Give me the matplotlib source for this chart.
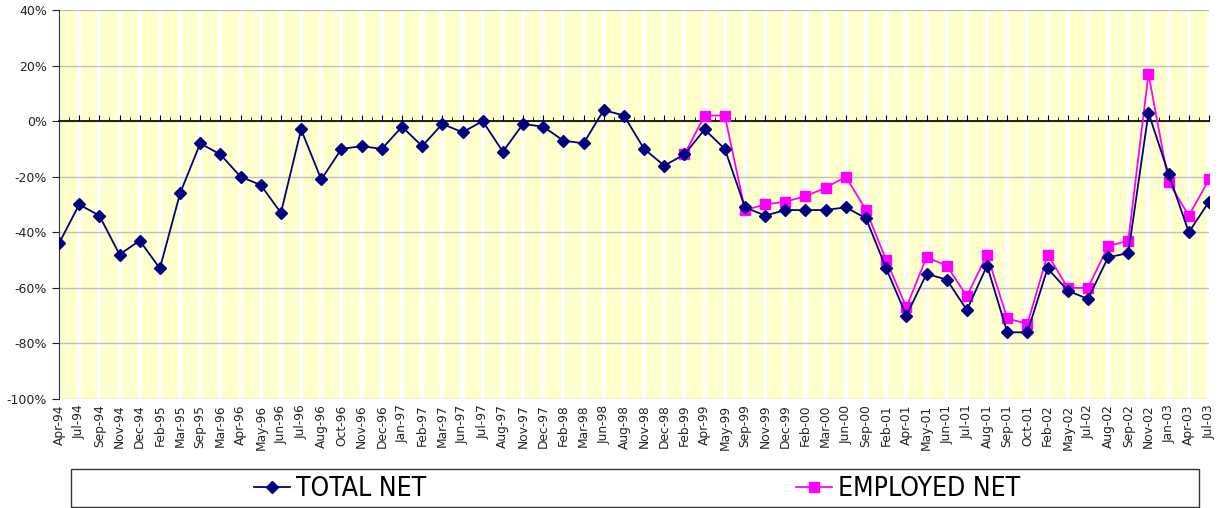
import numpy as np
import matplotlib.pyplot as plt
from matplotlib.patches import Rectangle
from matplotlib.ticker import FuncFormatter, MultipleLocator


# Data
months = ['Apr-94', 'Jul-94', 'Sep-94', 'Nov-94', 'Dec-94', 'Feb-95', 'Mar-95',
          'Sep-95', 'Mar-96', 'Apr-96', 'May-96', 'Jun-96', 'Jul-96', 'Aug-96',
          'Oct-96', 'Nov-96', 'Dec-96', 'Jan-97', 'Feb-97', 'Mar-97', 'Jun-97',
          'Jul-97', 'Aug-97', 'Nov-97', 'Dec-97', 'Feb-98', 'Mar-98', 'Jun-98',
          'Aug-98', 'Nov-98', 'Dec-98', 'Feb-99', 'Apr-99', 'May-99', 'Sep-99',
          'Nov-99', 'Dec-99', 'Feb-00', 'Mar-00', 'Jun-00', 'Sep-00', 'Feb-01',
          'Apr-01', 'May-01', 'Jun-01', 'Jul-01', 'Aug-01', 'Sep-01', 'Oct-01',
          'Feb-02', 'May-02', 'Jul-02', 'Aug-02', 'Sep-02', 'Nov-02', 'Jan-03',
          'Apr-03', 'Jul-03']

total_net = [-44, -30, -34, -48, -43, -53, -26,
             -8, -12, -20, -23, -33, -3, -21,
             -10, -9, -10, -2, -9, -1, -4,
             0, -11, -1, -2, -7, -8, 4,
             2, -10, -16, -12, -3, -10, -31,
             -34, -32, -32, -32, -31, -35, -53,
             -70, -55, -57, -68, -52, -76, -76,
             -53, -61, -64, -49, -47.5, 3, -19,
             -40, -29]

employed_net = [None] * 31 + [-12, 2, 2, -32,
                              -30, -29, -27, -24, -20, -32, -50,
                              -67, -49, -52, -63, -48, -71, -73,
                              -48, -60, -60, -45, -43, 17, -22,
                              -34, -21]

x = np.arange(len(months))
total = np.array(total_net, dtype=float)
employed = np.array([np.nan if v is None else v for v in employed_net])

# Figure
fig = plt.figure(figsize=(12.19, 5.08), dpi=100)
ax = fig.add_axes([59 / 1219, 1 - 399 / 508, 1150 / 1219, 389 / 508])

# yellow stripes between categories
for i in x[:-1]:
    ax.axvspan(i + 0.1, i + 0.9, color='#FFFFCC', lw=0, zorder=0)

ax.set_ylim(-100, 40)
ax.set_xlim(0, len(months) - 1)
ax.yaxis.set_major_locator(MultipleLocator(20))
ax.yaxis.set_major_formatter(FuncFormatter(lambda v, p: '%d%%' % v))
ax.grid(axis='y', color='#C0C0C0', lw=1, zorder=1)
ax.set_axisbelow(True)

# Plot
ax.plot(x, total, color='#000080', lw=1.3, marker='D', markersize=6,
        label='TOTAL NET', zorder=4)
ax.plot(x, employed, color='#FF00FF', lw=1.3, marker='s', markersize=6.5,
        label='EMPLOYED NET', zorder=3)

# Axis at zero
ax.spines['bottom'].set_position(('data', 0))
ax.spines['bottom'].set_linewidth(1.2)
ax.spines['right'].set_color('none')
ax.spines['top'].set_color('none')
ax.spines['left'].set_color('#333333')
ax.set_xticks(x)
ax.set_xticks(x[:-1] + 0.5, minor=True)
ax.tick_params(axis='x', which='major', direction='in', length=4,
               labelbottom=False)
ax.tick_params(axis='x', which='minor', direction='in', length=3)
ax.tick_params(axis='y', length=5, labelsize=9, colors='#222222')

# Category labels at the bottom
sec = ax.secondary_xaxis('bottom')
sec.set_xticks(x, months)
sec.spines['bottom'].set_visible(False)
sec.tick_params(length=0, labelsize=8.8, rotation=90, pad=4, colors='#222222')

# Legend
fig.patches.append(Rectangle((71 / 1219, 1 - 507 / 508), 1128 / 1219, 38 / 508,
                             transform=fig.transFigure, fill=False,
                             edgecolor='#333333', lw=1))
fig.legend(loc='center', bbox_to_anchor=(637 / 1219, 1 - 489 / 508),
           ncol=2, frameon=False, columnspacing=14, handlelength=1.36,
           handletextpad=0.25,
           prop={'family': 'DejaVu Sans', 'stretch': 'condensed', 'size': 19})

plt.savefig('out.png', dpi=100)
